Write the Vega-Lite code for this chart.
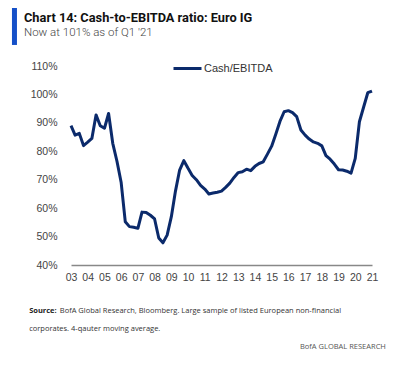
{
  "$schema": "https://vega.github.io/schema/vega-lite/v6.json",
  "autosize": {"type": "none"},
  "width": 301,
  "height": 199,
  "padding": {"left": 71, "top": 66, "right": 34, "bottom": 100},
  "background": "white",
  "title": {
    "text": "Chart 14: Cash-to-EBITDA ratio: Euro IG",
    "subtitle": "Now at 101% as of Q1 '21",
    "anchor": "start",
    "frame": "group",
    "dx": -47,
    "offset": -33,
    "font": "Roboto",
    "fontSize": 12.8,
    "fontWeight": "bold",
    "color": "#111",
    "subtitleFont": "Roboto",
    "subtitleFontSize": 11.5,
    "subtitleFontWeight": 300,
    "subtitleColor": "#444",
    "subtitlePadding": 2
  },
  "config": {
    "view": {"stroke": null},
    "axis": {"grid": false, "ticks": false, "labelFont": "Liberation Sans", "labelFontSize": 10.5, "labelColor": "#444", "title": null, "labelFlush": false, "labelOverlap": false},
    "axisX": {"tickCount": {"interval": "year", "step": 1}, "labelExpr": "utcFormat(datum.value, '%y')", "domainColor": "#888", "domainWidth": 1.5, "labelPadding": 7},
    "axisY": {"tickCount": 8, "labelExpr": "datum.value + '%'", "domain": false, "labelPadding": 14}
  },
  "layer": [
    {
      "data": {
        "values": [
          {"date": "2003-01-01", "value": 89.0},
          {"date": "2003-04-01", "value": 85.7},
          {"date": "2003-07-01", "value": 86.3},
          {"date": "2003-10-01", "value": 82.0},
          {"date": "2004-01-01", "value": 83.2},
          {"date": "2004-04-01", "value": 84.5},
          {"date": "2004-07-01", "value": 92.8},
          {"date": "2004-10-01", "value": 89.0},
          {"date": "2005-01-01", "value": 88.1},
          {"date": "2005-04-01", "value": 93.3},
          {"date": "2005-07-01", "value": 82.8},
          {"date": "2005-10-01", "value": 76.5},
          {"date": "2006-01-01", "value": 69.0},
          {"date": "2006-04-01", "value": 55.2},
          {"date": "2006-07-01", "value": 53.5},
          {"date": "2006-10-01", "value": 53.3},
          {"date": "2007-01-01", "value": 52.9},
          {"date": "2007-04-01", "value": 58.6},
          {"date": "2007-07-01", "value": 58.5},
          {"date": "2007-10-01", "value": 57.5},
          {"date": "2008-01-01", "value": 56.2},
          {"date": "2008-04-01", "value": 49.5},
          {"date": "2008-07-01", "value": 47.8},
          {"date": "2008-10-01", "value": 50.5},
          {"date": "2009-01-01", "value": 57.0},
          {"date": "2009-04-01", "value": 66.0},
          {"date": "2009-07-01", "value": 73.4},
          {"date": "2009-10-01", "value": 76.7},
          {"date": "2010-01-01", "value": 74.0},
          {"date": "2010-04-01", "value": 71.5},
          {"date": "2010-07-01", "value": 70.0},
          {"date": "2010-10-01", "value": 68.0},
          {"date": "2011-01-01", "value": 66.7},
          {"date": "2011-04-01", "value": 65.0},
          {"date": "2011-07-01", "value": 65.3},
          {"date": "2011-10-01", "value": 65.6},
          {"date": "2012-01-01", "value": 66.0},
          {"date": "2012-04-01", "value": 67.3},
          {"date": "2012-07-01", "value": 68.8},
          {"date": "2012-10-01", "value": 70.8},
          {"date": "2013-01-01", "value": 72.5},
          {"date": "2013-04-01", "value": 72.8},
          {"date": "2013-07-01", "value": 73.7},
          {"date": "2013-10-01", "value": 73.2},
          {"date": "2014-01-01", "value": 74.7},
          {"date": "2014-04-01", "value": 75.7},
          {"date": "2014-07-01", "value": 76.3},
          {"date": "2014-10-01", "value": 79.0},
          {"date": "2015-01-01", "value": 81.8},
          {"date": "2015-04-01", "value": 86.0},
          {"date": "2015-07-01", "value": 90.5},
          {"date": "2015-10-01", "value": 93.9},
          {"date": "2016-01-01", "value": 94.3},
          {"date": "2016-04-01", "value": 93.6},
          {"date": "2016-07-01", "value": 92.2},
          {"date": "2016-10-01", "value": 87.5},
          {"date": "2017-01-01", "value": 85.7},
          {"date": "2017-04-01", "value": 84.3},
          {"date": "2017-07-01", "value": 83.3},
          {"date": "2017-10-01", "value": 82.8},
          {"date": "2018-01-01", "value": 81.9},
          {"date": "2018-04-01", "value": 78.5},
          {"date": "2018-07-01", "value": 77.2},
          {"date": "2018-10-01", "value": 75.5},
          {"date": "2019-01-01", "value": 73.5},
          {"date": "2019-04-01", "value": 73.4},
          {"date": "2019-07-01", "value": 73.0},
          {"date": "2019-10-01", "value": 72.3},
          {"date": "2020-01-01", "value": 77.5},
          {"date": "2020-04-01", "value": 90.4},
          {"date": "2020-07-01", "value": 95.5},
          {"date": "2020-10-01", "value": 100.6},
          {"date": "2021-01-01", "value": 101.2}
        ]
      },
      "mark": {"type": "line", "strokeWidth": 3, "color": "#0b2a6b", "strokeJoin": "round"},
      "encoding": {
        "x": {
          "field": "date", "type": "temporal",
          "scale": {"type": "utc", "domain": [{"year": 2003, "month": 1, "date": 1, "utc": true}, {"year": 2021, "month": 1, "date": 1, "utc": true}], "nice": false}
        },
        "y": {
          "field": "value", "type": "quantitative",
          "scale": {"domain": [40, 110], "nice": false, "zero": false}
        },
        "color": {
          "datum": "Cash/EBITDA",
          "scale": {"range": ["#0b2a6b"]},
          "legend": {"title": null, "orient": "none", "legendX": 101, "legendY": -13, "symbolType": "stroke", "symbolSize": 784, "symbolStrokeWidth": 3, "labelFont": "Liberation Sans", "labelFontSize": 11, "labelColor": "#333", "labelOffset": 1, "padding": 0}
        }
      }
    },
    {
      "data": {"values": [{"label": "title bar"}]},
      "mark": {"type": "rule", "strokeWidth": 5, "color": "#1550c8"},
      "encoding": {
        "x": {"datum": {"year": 1999, "month": 8, "date": 15, "utc": true}, "type": "temporal"},
        "y": {"datum": 130.4},
        "y2": {"datum": 117.4}
      }
    },
    {
      "data": {"values": [{"label": "Source:"}]},
      "mark": {"type": "text", "align": "left", "baseline": "middle", "font": "Open Sans", "fontSize": 7.5, "fontWeight": "bold", "fill": "#222"},
      "encoding": {
        "x": {"datum": {"year": 2000, "month": 7, "date": 1, "utc": true}, "type": "temporal"},
        "y": {"datum": 23.8},
        "text": {"field": "label"}
      }
    },
    {
      "data": {"values": [{"label": "BofA Global Research, Bloomberg. Large sample of listed European non-financial"}]},
      "mark": {"type": "text", "align": "left", "baseline": "middle", "font": "Open Sans", "fontSize": 7.5, "fill": "#333"},
      "encoding": {
        "x": {"datum": {"year": 2002, "month": 5, "date": 1, "utc": true}, "type": "temporal"},
        "y": {"datum": 23.8},
        "text": {"field": "label"}
      }
    },
    {
      "data": {"values": [{"label": "corporates. 4-qauter moving average."}]},
      "mark": {"type": "text", "align": "left", "baseline": "middle", "font": "Open Sans", "fontSize": 7.5, "fill": "#333"},
      "encoding": {
        "x": {"datum": {"year": 2000, "month": 7, "date": 1, "utc": true}, "type": "temporal"},
        "y": {"datum": 17.5},
        "text": {"field": "label"}
      }
    },
    {
      "data": {"values": [{"label": "BofA GLOBAL RESEARCH"}]},
      "mark": {"type": "text", "align": "right", "baseline": "middle", "font": "Open Sans", "fontSize": 7.5, "fill": "#555"},
      "encoding": {
        "x": {"datum": {"year": 2021, "month": 11, "date": 1, "utc": true}, "type": "temporal"},
        "y": {"datum": 11.2},
        "text": {"field": "label"}
      }
    }
  ]
}
